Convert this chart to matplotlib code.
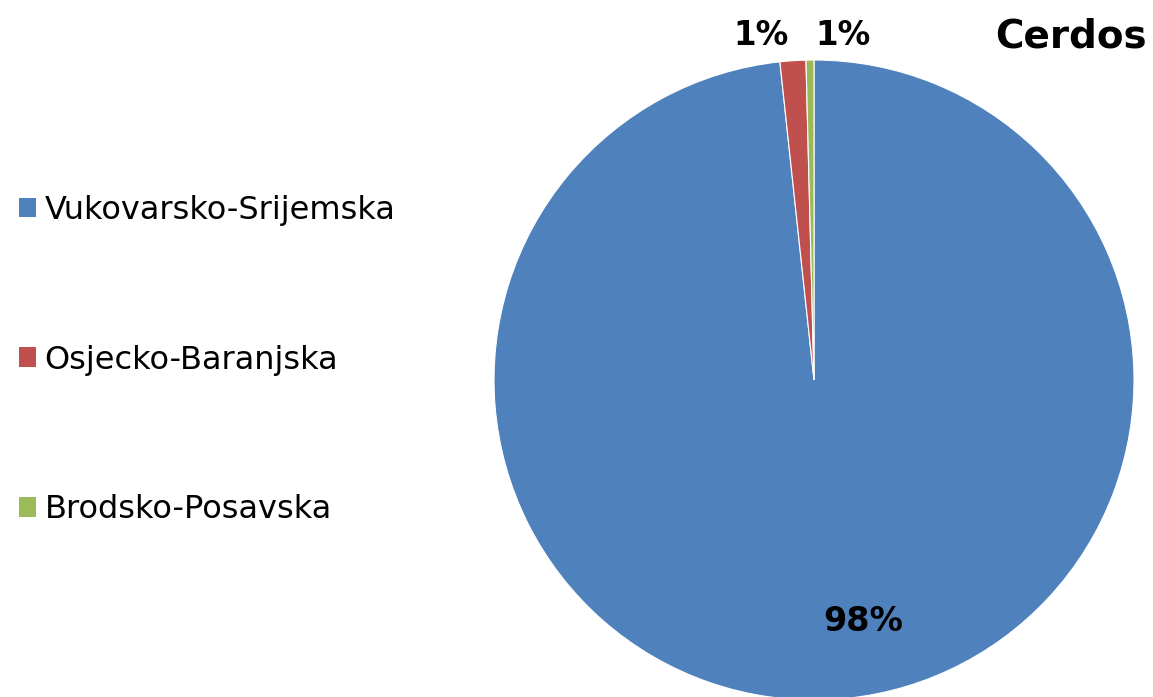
import matplotlib
matplotlib.use("Agg")
import matplotlib.pyplot as plt
from matplotlib.patches import Patch
import numpy as np

# data
regions = ["Vukovarsko-Srijemska", "Osjecko-Baranjska", "Brodsko-Posavska"]
shares = [98.3, 1.3, 0.4]
share_labels = ["98%", "1%", "1%"]
colors = ["#4F81BD", "#C0504D", "#9BBB59"]
title = "Cerdos"

plt.rcParams['font.family'] = ['DejaVu Sans']

W, H = 1153, 697
fig = plt.figure(figsize=(W / 100, H / 100), dpi=100)

# pie axes: center (814, 380) px, radius 320 px
cx, cy, r = 814, 380, 320
ax = fig.add_axes([(cx - r) / W, (H - cy - r) / H, 2 * r / W, 2 * r / H])
wedges, _ = ax.pie(shares, colors=colors, startangle=90, counterclock=False,
                   radius=1, wedgeprops=dict(edgecolor="white", linewidth=0.8))
ax.set_xlim(-1, 1)
ax.set_ylim(-1, 1)
ax.set_aspect("equal")
ax.axis("off")

# label placement (radius, angle shift in degrees) per wedge
label_layout = [(0.77, 8.5), (1.09, 5.0), (1.08, -5.5)]
label_sizes = [24, 23.5, 23.5]
for w, lab, (rad, shift), fs in zip(wedges, share_labels, label_layout, label_sizes):
  mid = np.deg2rad((w.theta1 + w.theta2) / 2 + shift)
  ax.text(rad * np.cos(mid), rad * np.sin(mid), lab, ha="center", va="center",
          fontsize=fs, fontweight="bold", color="black", clip_on=False)

fig.text(1147 / W, 1 - 37 / H, title, ha="right", va="center",
         fontsize=28, fontweight="bold", color="black")

handles = [Patch(facecolor=c, edgecolor="none") for c in colors]
fig.legend(handles, regions, loc="center left", bbox_to_anchor=(0.005, 1 - 360 / H),
           frameon=False, fontsize=23, handlelength=0.56, handleheight=0.56,
           handletextpad=0.25, labelspacing=3.72, borderaxespad=0)

fig.savefig("out.png", dpi=100)
